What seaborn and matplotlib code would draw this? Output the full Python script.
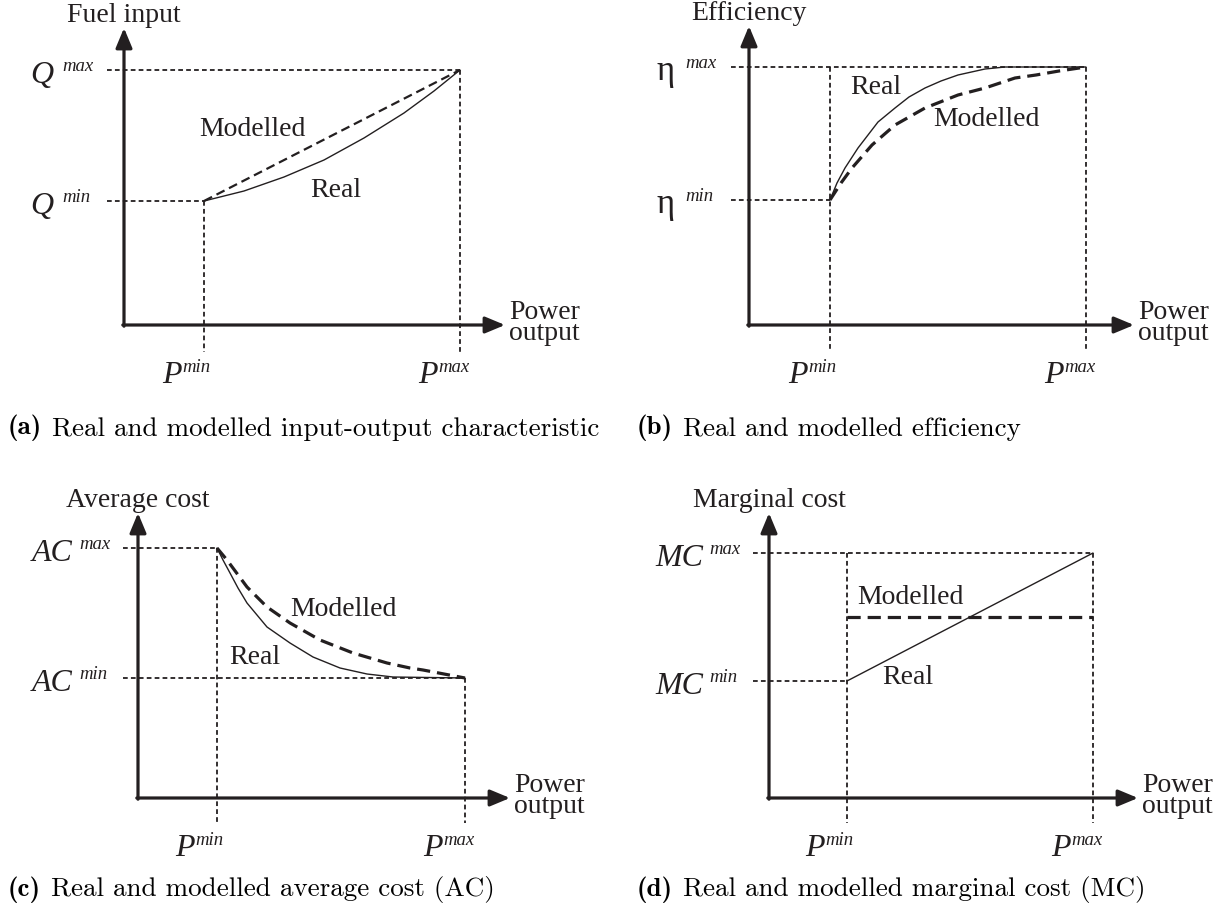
import matplotlib
matplotlib.use("Agg")
import matplotlib.pyplot as plt
import seaborn as sns

# ---------------------------------------------------------------
# Values (drawing units: 1 unit = 100 px, origin at the axis corner)
# ---------------------------------------------------------------
# (a) input-output characteristic
a_pmin, a_pmax = 0.80, 3.36
a_qmin, a_qmax = 1.24, 2.55
a_real_p = [0.80, 1.20, 1.60, 2.00, 2.40, 2.80, 3.10, 3.36]
a_real_q = [1.24, 1.34, 1.48, 1.65, 1.87, 2.12, 2.34, 2.55]
a_model_p = [0.80, 3.36]
a_model_q = [1.24, 2.55]

# (b) efficiency
b_pmin, b_pmax = 0.81, 3.37
b_emin, b_emax = 1.25, 2.58
b_real_p = [0.81, 0.88, 0.96, 1.09, 1.29, 1.46, 1.60, 1.76, 1.92, 2.09, 2.36, 2.56, 3.37]
b_real_e = [1.25, 1.42, 1.57, 1.77, 2.03, 2.17, 2.28, 2.37, 2.44, 2.50, 2.56, 2.58, 2.58]
b_model_p = [0.81, 0.92, 1.03, 1.23, 1.46, 1.76, 2.09, 2.36, 2.66, 2.87, 3.10, 3.37]
b_model_e = [1.25, 1.42, 1.57, 1.80, 2.00, 2.17, 2.30, 2.37, 2.47, 2.50, 2.54, 2.58]

# (c) average cost
c_pmin, c_pmax = 0.79, 3.27
c_acmin, c_acmax = 1.20, 2.50
c_real_p = [0.79, 0.85, 0.92, 1.00, 1.09, 1.29, 1.52, 1.75, 2.02, 2.29, 2.55, 3.27]
c_real_ac = [2.50, 2.38, 2.25, 2.10, 1.95, 1.71, 1.55, 1.41, 1.30, 1.24, 1.21, 1.20]
c_model_p = [0.79, 0.89, 1.09, 1.29, 1.52, 1.82, 2.15, 2.49, 2.72, 2.85, 3.27]
c_model_ac = [2.50, 2.38, 2.11, 1.91, 1.75, 1.58, 1.45, 1.35, 1.30, 1.28, 1.20]

# (d) marginal cost
d_pmin, d_pmax = 0.78, 3.24
d_mcmin, d_mcmax = 1.17, 2.45
d_real_p = [0.78, 3.24]
d_real_mc = [1.17, 2.45]
d_model_p = [0.78, 3.24]
d_model_mc = [1.81, 1.81]

captions = [
    ("(a)", "Real and modelled input-output characteristic"),
    ("(b)", "Real and modelled efficiency"),
    ("(c)", "Real and modelled average cost (AC)"),
    ("(d)", "Real and modelled marginal cost (MC)"),
]

# ---------------------------------------------------------------
sns.set_theme(style="white")
plt.rcParams["font.family"] = ["Liberation Serif", "DejaVu Serif"]
plt.rcParams["lines.scale_dashes"] = False

INK = "#231f20"
SERIF = "Liberation Serif"
W, H = 1219, 918
fig = plt.figure(figsize=(W / 100, H / 100), dpi=100)
fig.patch.set_facecolor("white")


def panel(x0, y0, x1, y1):
    """Axes whose data unit is 100 px; (x0, y0) is the corner, (x1, y1) the arrow tips."""
    ax = fig.add_axes([x0 / W, 1 - y0 / H, (x1 - x0) / W, (y0 - y1) / H])
    ax.set_xlim(0, (x1 - x0) / 100)
    ax.set_ylim(0, (y0 - y1) / 100)
    ax.set_axis_off()
    xm, ym = ax.get_xlim()[1], ax.get_ylim()[1]
    arrow = dict(arrowstyle="-|>,head_length=0.6,head_width=0.25", lw=2.3,
                 color=INK, mutation_scale=20, shrinkA=0, shrinkB=0)
    ax.annotate("", xy=(xm + 0.02, 0), xytext=(-0.012, 0), arrowprops=arrow,
                annotation_clip=False)
    ax.annotate("", xy=(0, ym + 0.02), xytext=(0, -0.012), arrowprops=arrow,
                annotation_clip=False)
    return ax


def guide(ax, xs, ys):
    ax.plot(xs, ys, color=INK, lw=1.3, linestyle=(0, (3.4, 2.3)), clip_on=False,
            solid_capstyle="butt", dash_capstyle="butt")


def ylabel_top(ax, text):
    ax.text(0, ax.get_ylim()[1] + 0.145, text, ha="center", va="center",
            fontsize=20, family=SERIF, color=INK, clip_on=False)


def xlabel_right(ax):
    ax.text(ax.get_xlim()[1] + 0.06, 0.02, "Power\noutput", ha="left", va="center",
            fontsize=20, family=SERIF, color=INK, linespacing=0.82,
            multialignment="center", clip_on=False)


def level_label(ax, y, main, sup, main_right, sup_left, upright=False, size=23):
    ax.text(main_right, y - 0.13, main, ha="right", va="baseline", fontsize=size,
            family=SERIF, fontstyle="normal" if upright else "italic",
            color=INK, clip_on=False)
    ax.text(sup_left, y - 0.01, sup, ha="left", va="baseline", fontsize=13.5,
            family=SERIF, fontstyle="italic", color=INK, clip_on=False)


def p_label(ax, p, sup):
    ax.text(p - 0.22, -0.58, "P", ha="right", va="baseline", fontsize=23,
            family=SERIF, fontstyle="italic", color=INK, clip_on=False)
    ax.text(p - 0.215, -0.47, sup, ha="left", va="baseline", fontsize=13.5,
            family=SERIF, fontstyle="italic", color=INK, clip_on=False)


def curve(ax, xs, ys, modelled=False, thin_dash=False):
    if modelled:
        if thin_dash:
            kw = dict(lw=1.6, linestyle=(0, (6.5, 3.6)))
        else:
            kw = dict(lw=2.3, linestyle=(0, (9.5, 5.0)))
    else:
        kw = dict(lw=1.0, linestyle="-")
    sns.lineplot(x=xs, y=ys, ax=ax, color=INK, sort=False, estimator=None, **kw)


def word(ax, x, y, text):
    ax.text(x, y, text, ha="left", va="center", fontsize=20, family=SERIF,
            color=INK, clip_on=False)


# ---------------- (a) fuel input ----------------
ax = panel(124, 325, 503, 30)
guide(ax, [-0.17, a_pmax], [a_qmax, a_qmax])
guide(ax, [-0.17, a_pmin], [a_qmin, a_qmin])
guide(ax, [a_pmin, a_pmin], [a_qmin, -0.27])
guide(ax, [a_pmax, a_pmax], [a_qmax, -0.27])
curve(ax, a_model_p, a_model_q, modelled=True, thin_dash=True)
curve(ax, a_real_p, a_real_q)
ylabel_top(ax, "Fuel input")
xlabel_right(ax)
level_label(ax, a_qmax, "Q", "max", -0.71, -0.62)
level_label(ax, a_qmin, "Q", "min", -0.71, -0.62)
p_label(ax, a_pmin, "min")
p_label(ax, a_pmax, "max")
word(ax, 0.75, 1.95, "Modelled")
word(ax, 1.86, 1.34, "Real")

# ---------------- (b) efficiency ----------------
ax = panel(749, 325, 1132, 28)
guide(ax, [-0.18, b_pmax], [b_emax, b_emax])
guide(ax, [-0.18, b_pmin], [b_emin, b_emin])
guide(ax, [b_pmin, b_pmin], [b_emax, -0.27])
guide(ax, [b_pmax, b_pmax], [b_emax, -0.27])
curve(ax, b_model_p, b_model_e, modelled=True)
curve(ax, b_real_p, b_real_e)
ylabel_top(ax, "Efficiency")
xlabel_right(ax)
level_label(ax, b_emax, "\u03b7", "max", -0.74, -0.64, upright=True, size=25)
level_label(ax, b_emin, "\u03b7", "min", -0.74, -0.64, upright=True, size=25)
p_label(ax, b_pmin, "min")
p_label(ax, b_pmax, "max")
word(ax, 1.01, 2.37, "Real")
word(ax, 1.84, 2.05, "Modelled")

# ---------------- (c) average cost ----------------
ax = panel(138, 798, 508, 515)
guide(ax, [-0.15, c_pmin], [c_acmax, c_acmax])
guide(ax, [-0.15, c_pmax], [c_acmin, c_acmin])
guide(ax, [c_pmin, c_pmin], [c_acmax, -0.25])
guide(ax, [c_pmax, c_pmax], [c_acmin, -0.25])
curve(ax, c_model_p, c_model_ac, modelled=True)
curve(ax, c_real_p, c_real_ac)
ylabel_top(ax, "Average cost")
xlabel_right(ax)
level_label(ax, c_acmax, "AC", "max", -0.65, -0.59)
level_label(ax, c_acmin, "AC", "min", -0.65, -0.59)
p_label(ax, c_pmin, "min")
p_label(ax, c_pmax, "max")
word(ax, 1.52, 1.89, "Modelled")
word(ax, 0.91, 1.41, "Real")

# ---------------- (d) marginal cost ----------------
ax = panel(769, 798, 1136, 515)
guide(ax, [-0.16, d_pmax], [d_mcmax, d_mcmax])
guide(ax, [-0.16, d_pmin], [d_mcmin, d_mcmin])
guide(ax, [d_pmin, d_pmin], [d_mcmax, -0.25])
guide(ax, [d_pmax, d_pmax], [d_mcmax, -0.25])
curve(ax, d_model_p, d_model_mc, modelled=True)
curve(ax, d_real_p, d_real_mc)
ylabel_top(ax, "Marginal cost")
xlabel_right(ax)
level_label(ax, d_mcmax, "MC", "max", -0.66, -0.60)
level_label(ax, d_mcmin, "MC", "min", -0.66, -0.60)
p_label(ax, d_pmin, "min")
p_label(ax, d_pmax, "max")
word(ax, 0.88, 2.01, "Modelled")
word(ax, 1.13, 1.20, "Real")

# ---------------- captions ----------------
cap_pos = [(8, 428), (637, 428), (8, 890), (637, 890)]
for (tag, text), (cx, cy) in zip(captions, cap_pos):
    t = fig.text(cx / W, 1 - cy / H, tag, ha="left", va="center",
                 fontsize=19.5, family="cmb10", color="black")
    fig.text(0, 0, "")
    plt.annotate(text, xy=(1, 0), xycoords=t, xytext=(7, 0),
                 textcoords="offset points", ha="left", va="bottom",
                 fontsize=19.5, family="cmr10", color="black",
                 annotation_clip=False)

fig.savefig("out.png", dpi=100, facecolor="white")
